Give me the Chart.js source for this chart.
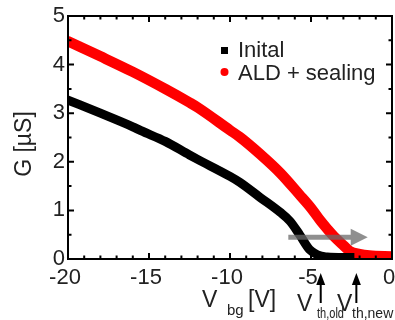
<!DOCTYPE html>
<html>
<head>
<meta charset="utf-8">
<script src="https://cdn.jsdelivr.net/npm/chart.js@4.4.1/dist/chart.umd.min.js"></script>
<style>
  html, body { margin: 0; padding: 0; background: #fff; }
  #wrap { width: 395px; height: 320px; position: relative; }
</style>
</head>
<body>
<div id="wrap"><canvas id="chart" width="395" height="320"></canvas></div>
<script>
// values (V_bg in V, G in uS)
const initialV = [-20, -18, -16, -15.5, -14, -12.5, -12, -10, -9.4, -8.15, -6.9, -6.3, -5.7, -5.1, -4.4, -4.0, -3.0, -2.6];
const initialG = [3.27, 3.0, 2.72, 2.64, 2.42, 2.14, 2.05, 1.7, 1.58, 1.27, 0.96, 0.78, 0.5, 0.2, 0.06, 0.04, 0.03, 0.03];

const aldV = [-20, -18, -16, -14, -12.5, -12, -10, -9.4, -8.15, -6.9, -5.7, -5.0, -4.4, -4.0, -3.6, -3.0, -2.6, -2.0, -1.4, 0];
const aldG = [4.48, 4.17, 3.85, 3.5, 3.22, 3.12, 2.65, 2.51, 2.16, 1.77, 1.32, 1.05, 0.78, 0.62, 0.47, 0.28, 0.16, 0.1, 0.07, 0.05];

const seriesNames = ['Inital', 'ALD + sealing'];
const xTicks = [-20, -15, -10, -5, 0];
const yTicks = [0, 1, 2, 3, 4, 5];

// annotation positions (data units)
const shiftArrow = { from: -6.4, to: -1.5, g: 0.45 };
const vthOld = -4.4;
const vthNew = -2.2;

const FONT = '"Liberation Sans", Arial, sans-serif';
const TEXT = '#222';

const pts = (xs, ys) => xs.map((x, i) => ({ x: x, y: ys[i] }));

const framePlugin = {
    id: 'frame',
    afterDatasetsDraw(chart) {
        const { ctx, scales: { x, y } } = chart;
        // grey shift arrow
        const x0 = x.getPixelForValue(shiftArrow.from);
        const x1 = x.getPixelForValue(shiftArrow.to);
        const yy = y.getPixelForValue(shiftArrow.g);
        ctx.save();
        ctx.fillStyle = 'rgba(105,105,105,0.75)';
        ctx.beginPath();
        ctx.moveTo(x0, yy - 2.5);
        ctx.lineTo(x1 - 17, yy - 2.5);
        ctx.lineTo(x1 - 17, yy - 8.5);
        ctx.lineTo(x1, yy);
        ctx.lineTo(x1 - 17, yy + 8.5);
        ctx.lineTo(x1 - 17, yy + 2.5);
        ctx.lineTo(x0, yy + 2.5);
        ctx.closePath();
        ctx.fill();
        ctx.restore();
    },
    afterDraw(chart) {
        const { ctx, chartArea: a, scales: { x, y } } = chart;
        ctx.save();
        ctx.strokeStyle = '#000';
        ctx.lineWidth = 2;
        // ticks, inward on all four sides
        ctx.beginPath();
        for (let v = x.min; v <= x.max + 1e-9; v += 1) {
            const px = x.getPixelForValue(v);
            const len = Math.abs(v % 5) < 1e-9 ? 6 : 3.5;
            ctx.moveTo(px, a.bottom); ctx.lineTo(px, a.bottom - len);
            ctx.moveTo(px, a.top); ctx.lineTo(px, a.top + len);
        }
        for (let v = y.min; v <= y.max + 1e-9; v += 0.5) {
            const py = y.getPixelForValue(v);
            const len = Math.abs(v % 1) < 1e-9 ? 6 : 3.5;
            ctx.moveTo(a.left, py); ctx.lineTo(a.left + len, py);
            ctx.moveTo(a.right, py); ctx.lineTo(a.right - len, py);
        }
        ctx.stroke();
        ctx.strokeRect(a.left, a.top, a.right - a.left, a.bottom - a.top);

        // legend
        ctx.fillStyle = '#000';
        ctx.fillRect(221, 47, 7, 7);
        ctx.fillStyle = '#ff0000';
        ctx.beginPath(); ctx.arc(224.5, 72, 4, 0, Math.PI * 2); ctx.fill();
        ctx.fillStyle = TEXT;
        ctx.font = '22px ' + FONT;
        ctx.textAlign = 'left';
        ctx.textBaseline = 'alphabetic';
        ctx.fillText(chart.data.datasets[0].label, 238, 57);
        ctx.fillText(chart.data.datasets[1].label, 238, 80);

        // axis titles
        ctx.font = '23px ' + FONT;
        ctx.fillText('V', 202, 307);
        ctx.fillText('[V]', 248, 307);
        ctx.font = '15px ' + FONT;
        ctx.fillText('bg', 227, 315);

        ctx.save();
        ctx.translate(31, 144);
        ctx.rotate(-Math.PI / 2);
        ctx.font = '23px ' + FONT;
        ctx.textAlign = 'center';
        ctx.fillText('G [\u00b5S]', 0, 0);
        ctx.restore();

        // threshold markers
        ctx.fillStyle = '#000';
        ctx.lineWidth = 2;
        [vthOld, vthNew].forEach(v => {
            const px = x.getPixelForValue(v);
            ctx.beginPath();
            ctx.moveTo(px, 303); ctx.lineTo(px, 283);
            ctx.stroke();
            ctx.beginPath();
            ctx.moveTo(px, 273); ctx.lineTo(px - 4.5, 285); ctx.lineTo(px + 4.5, 285);
            ctx.closePath(); ctx.fill();
        });
        ctx.fillStyle = TEXT;
        ctx.font = '23px ' + FONT;
        ctx.fillText('V', 297, 311);
        ctx.fillText('V', 337, 311);
        ctx.font = '14px ' + FONT;
        ctx.fillText('th,old', 317, 318, 27);
        ctx.fillText('th,new', 352, 318);
        ctx.restore();
    }
};

new Chart(document.getElementById('chart'), {
    type: 'scatter',
    data: {
        datasets: [
            {
                label: seriesNames[0],
                data: pts(initialV, initialG),
                showLine: true,
                borderColor: '#000',
                backgroundColor: '#000',
                borderWidth: 9,
                borderCapStyle: 'square',
                pointRadius: 0,
                cubicInterpolationMode: 'monotone',
                clip: 0
            },
            {
                label: seriesNames[1],
                data: pts(aldV, aldG),
                showLine: true,
                borderColor: '#ff0000',
                backgroundColor: '#ff0000',
                borderWidth: 10.5,
                borderCapStyle: 'round',
                pointRadius: 0,
                cubicInterpolationMode: 'monotone',
                clip: 0
            }
        ]
    },
    options: {
        responsive: false,
        animation: false,
        layout: { padding: { top: 16, right: 3, left: 0, bottom: 0 } },
        plugins: { legend: { display: false }, tooltip: { enabled: false } },
        scales: {
            x: {
                type: 'linear',
                min: -20, max: 0,
                grid: { display: false, drawTicks: false },
                border: { display: false },
                afterBuildTicks: s => { s.ticks = xTicks.map(v => ({ value: v })); },
                ticks: {
                    font: { size: 22, family: FONT },
                    color: TEXT,
                    padding: 6,
                    labelOffset: -3,
                    maxRotation: 0,
                    autoSkip: false,
                    callback: v => String(v)
                },
                afterFit: s => { s.height = 61; s.paddingLeft = 0; s.paddingRight = 0; }
            },
            y: {
                type: 'linear',
                min: 0, max: 5,
                grid: { display: false, drawTicks: false },
                border: { display: false },
                afterBuildTicks: s => { s.ticks = yTicks.map(v => ({ value: v })); },
                ticks: {
                    font: { size: 22, family: FONT },
                    color: TEXT,
                    padding: 3,
                    autoSkip: false,
                    callback: v => String(v)
                },
                afterFit: s => { s.width = 68; s.paddingTop = 0; s.paddingBottom = 0; }
            }
        }
    },
    plugins: [framePlugin]
});
</script>
</body>
</html>
